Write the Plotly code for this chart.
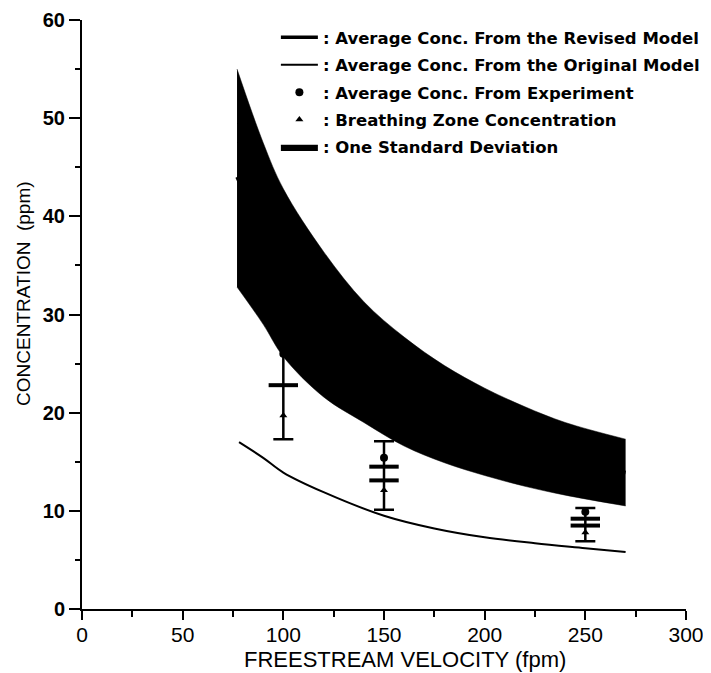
import plotly.graph_objects as go

# ---- data ----
vel_band = [77, 90, 100, 120, 140, 160, 180, 200, 220, 240, 270]
band_upper = [55.0, 47.5, 42.8, 36.4, 31.3, 27.7, 24.8, 22.5, 20.6, 19.0, 17.3]
band_lower = [32.8, 29.0, 25.7, 21.6, 19.0, 16.6, 14.9, 13.6, 12.5, 11.6, 10.5]
revised_model = [44.0, 38.2, 34.2, 29.0, 25.2, 22.2, 19.9, 18.1, 16.6, 15.3, 13.9]

orig_vel = [78, 90, 100, 120, 150, 175, 200, 225, 250, 270]
original_model = [17.0, 15.4, 13.9, 11.9, 9.5, 8.2, 7.3, 6.7, 6.2, 5.8]

err_vel = [100, 150, 250]
err_top = [28.5, 17.1, 10.3]
err_bottom = [17.3, 10.1, 6.9]
exp_avg = [26.0, 15.4, 9.9]
breathing = [19.7, 12.1, 7.8]
dash_vel = [100, 150, 150, 250, 250]
dash_conc = [22.8, 14.5, 13.1, 9.2, 8.5]

x_ticks = [0, 50, 100, 150, 200, 250, 300]
y_ticks = [0, 10, 20, 30, 40, 50, 60]

names = [
    ": Average Conc. From the Revised Model",
    ": Average Conc. From the Original Model",
    ": Average Conc. From Experiment",
    ": Breathing Zone Concentration",
    ": One Standard Deviation",
]

err_mid = [(t + b) / 2 for t, b in zip(err_top, err_bottom)]
err_half = [(t - b) / 2 for t, b in zip(err_top, err_bottom)]

fig = go.Figure()

# one standard deviation band (lower edge, then upper edge filled to it)
fig.add_trace(go.Scatter(
    x=vel_band, y=band_lower, mode="lines",
    line=dict(color="#000000", width=0.5, shape="spline"),
    showlegend=False, hoverinfo="skip",
))
fig.add_trace(go.Scatter(
    x=vel_band, y=band_upper, mode="lines", fill="tonexty", fillcolor="#000000",
    line=dict(color="#000000", width=0.5, shape="spline"),
    name=names[4], legendrank=5, legendgroup="g5",
))
# revised model
fig.add_trace(go.Scatter(
    x=vel_band, y=revised_model, mode="lines",
    line=dict(color="#000000", width=3.5, shape="spline"),
    name=names[0], legendrank=1, legendgroup="g1",
))
# original model
fig.add_trace(go.Scatter(
    x=orig_vel, y=original_model, mode="lines",
    line=dict(color="#000000", width=2, shape="spline"),
    name=names[1], legendrank=2, legendgroup="g2",
))
# error bars
fig.add_trace(go.Scatter(
    x=err_vel, y=err_mid, mode="markers",
    marker=dict(size=1, color="rgba(0,0,0,0)"),
    error_y=dict(type="data", array=err_half, visible=True,
                 color="#000000", thickness=2.5, width=10),
    showlegend=False, hoverinfo="skip",
))
# inner dashes
fig.add_trace(go.Scatter(
    x=dash_vel, y=dash_conc, mode="markers",
    marker=dict(symbol="line-ew", size=21, line=dict(color="#000000", width=4)),
    showlegend=False, hoverinfo="skip",
))
# experiment average
fig.add_trace(go.Scatter(
    x=err_vel, y=exp_avg, mode="markers",
    marker=dict(symbol="circle", size=8, color="#000000"),
    name=names[2], legendrank=3, legendgroup="g3",
))
# breathing zone
fig.add_trace(go.Scatter(
    x=err_vel, y=breathing, mode="markers",
    marker=dict(symbol="triangle-up", size=7, color="#000000"),
    name=names[3], legendrank=4, legendgroup="g4",
))

fig.update_layout(
    width=703, height=665,
    margin=dict(l=74, r=25, t=12, b=64, autoexpand=False),
    paper_bgcolor="white", plot_bgcolor="white",
    showlegend=True,
    legend=dict(
        x=0.321, y=1.0, xanchor="left", yanchor="top",
        bgcolor="rgba(0,0,0,0)",
        font=dict(family="DejaVu Sans", size=16.5, color="#000000", weight="bold"),
        itemwidth=37, tracegroupgap=3,
    ),
    font=dict(family="Liberation Sans", color="#000000"),
    annotations=[
        dict(text="FREESTREAM VELOCITY (fpm)", xref="paper", yref="paper",
             x=0.535, y=-0.085, xanchor="center", yanchor="middle", showarrow=False,
             font=dict(family="Liberation Sans", size=22, color="#000000")),
        dict(text="CONCENTRATION  (ppm)", xref="paper", yref="paper",
             x=-0.096, y=0.535, xanchor="center", yanchor="middle", showarrow=False,
             textangle=-90,
             font=dict(family="Liberation Sans", size=19, color="#000000")),
    ],
)

fig.update_xaxes(
    range=[0, 300], tickmode="array", tickvals=x_ticks, automargin=False,
    showgrid=False, zeroline=False, showline=True, linecolor="#000000", linewidth=2,
    ticks="outside", ticklen=9, tickwidth=2, tickcolor="#000000", ticklabelstandoff=-3,
    minor=dict(dtick=25, tick0=0, ticks="outside", ticklen=6, tickwidth=1.5, tickcolor="#000000"),
    tickfont=dict(family="Liberation Sans", size=21, color="#000000"),
)
fig.update_yaxes(
    range=[0, 60], tickmode="array", tickvals=y_ticks, automargin=False,
    showgrid=False, zeroline=False, showline=True, linecolor="#000000", linewidth=2,
    ticks="outside", ticklen=11, tickwidth=2, tickcolor="#000000",
    minor=dict(dtick=5, tick0=0, ticks="outside", ticklen=5, tickwidth=1.5, tickcolor="#000000"),
    tickfont=dict(family="Liberation Sans", size=20, color="#000000", weight="bold"),
)

fig.write_html("out.html")
